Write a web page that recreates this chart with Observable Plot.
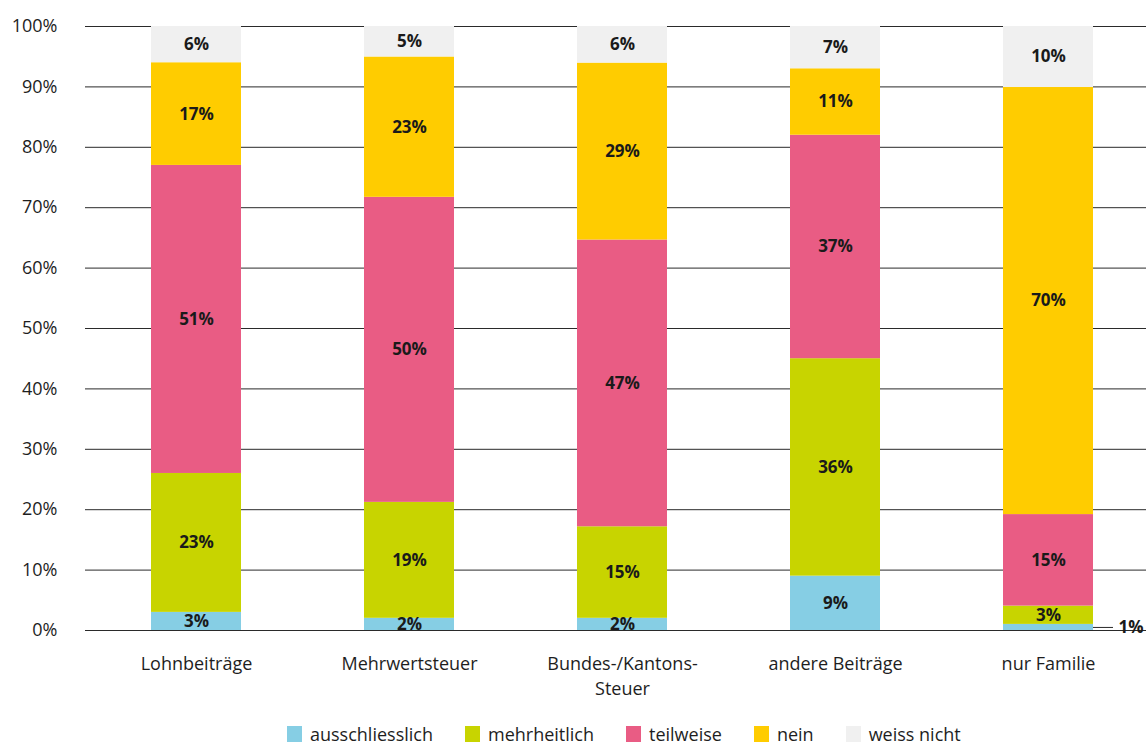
<!DOCTYPE html>
<html>
<head>
<meta charset="utf-8">
<script src="https://cdn.jsdelivr.net/npm/d3@7"></script>
<script src="https://cdn.jsdelivr.net/npm/@observablehq/plot@0.6"></script>
<style>
  html, body { margin: 0; padding: 0; background: #fff; overflow: hidden; }
  body { font-family: "Open Sans", sans-serif; color: #1e1e1e; }
  #chart svg { display: block; }
  #legend { display: flex; padding-left: 287px; margin-top: 12px; font-size: 18px; line-height: 20px; }
  .item { display: flex; align-items: flex-start; margin-right: 32px; }
  .swatch { width: 15px; height: 16px; margin-right: 8px; flex: none; }
  .label { margin-top: -2px; }
</style>
</head>
<body>
<div id="chart"></div>
<div id="legend"></div>
<script>
// Funding sources and answer categories
const categories = ["Lohnbeiträge", "Mehrwertsteuer", "Bundes-/Kantons-Steuer", "andere Beiträge", "nur Familie"];
const series = ["ausschliesslich", "mehrheitlich", "teilweise", "nein", "weiss nicht"];

// Share of answers per funding source (%)
const ausschliesslich = [3, 2, 2, 9, 1];
const mehrheitlich   = [23, 19, 15, 36, 3];
const teilweise      = [51, 50, 47, 37, 15];
const nein           = [17, 23, 29, 11, 70];
const weissNicht     = [6, 5, 6, 7, 10];

const colors = ["#86cee4", "#c8d400", "#e95c84", "#ffcc00", "#f0f0f0"];
const yTicks = [0, 10, 20, 30, 40, 50, 60, 70, 80, 90, 100];

const columns = [ausschliesslich, mehrheitlich, teilweise, nein, weissNicht];
const rows = [];
categories.forEach((category, i) => {
  series.forEach((s, j) => rows.push({category, series: s, value: columns[j][i]}));
});

// The thin "ausschliesslich" slice of the last bar is labelled outside the bar
const isOutside = d => d.category === "nur Familie" && d.series === "ausschliesslich";

const stack = extra => Plot.stackY({
  offset: "normalize",
  x: "category",
  y: "value",
  z: "series",
  ...extra
});

const chart = Plot.plot({
  width: 1146,
  height: 714,
  marginLeft: 85,
  marginRight: 0,
  marginTop: 26,
  marginBottom: 84,
  style: {fontFamily: "'Open Sans', sans-serif", fontSize: "18px", color: "#1e1e1e", background: "#fff"},
  x: {domain: categories, paddingInner: 0.5785, paddingOuter: 0.274, align: 0.556, label: null},
  y: {domain: [0, 1], label: null},
  color: {domain: series, range: colors},
  marks: [
    Plot.ruleY(yTicks.map(t => t / 100), {stroke: "#2a2a2a", strokeWidth: 1}),
    Plot.barY(rows, stack({fill: "series"})),
    Plot.text(rows, stack({
      text: d => isOutside(d) ? null : `${d.value}%`,
      fontSize: 17,
      fontWeight: "bold",
      fill: "#1a1a1a"
    })),
    Plot.tickY(rows, Plot.filter(isOutside, stack({
      stroke: "#2a2a2a",
      strokeWidth: 1,
      dx: 90,
      insetRight: 70
    }))),
    Plot.text(rows, stack({
      text: d => isOutside(d) ? `${d.value}%` : null,
      fontSize: 17,
      fontWeight: "bold",
      fill: "#1a1a1a",
      textAnchor: "start",
      dx: 70
    })),
    Plot.axisY({
      ticks: yTicks.map(t => t / 100),
      tickFormat: t => `${Math.round(t * 100)}%`,
      tickSize: 0,
      tickPadding: 28,
      fontSize: 18,
      fill: "#1e1e1e"
    }),
    Plot.axisX({
      tickSize: 0,
      tickPadding: 22,
      fontSize: 18,
      lineHeight: 1.39,
      fill: "#1e1e1e",
      tickFormat: c => c.replace("Kantons-", "Kantons-\n")
    })
  ]
});
document.getElementById("chart").append(chart);

// Legend
const legend = document.getElementById("legend");
series.forEach((s, j) => {
  const item = document.createElement("div");
  item.className = "item";
  const sw = document.createElement("span");
  sw.className = "swatch";
  sw.style.background = colors[j];
  const lb = document.createElement("span");
  lb.className = "label";
  lb.textContent = s;
  item.append(sw, lb);
  legend.append(item);
});
</script>
</body>
</html>
